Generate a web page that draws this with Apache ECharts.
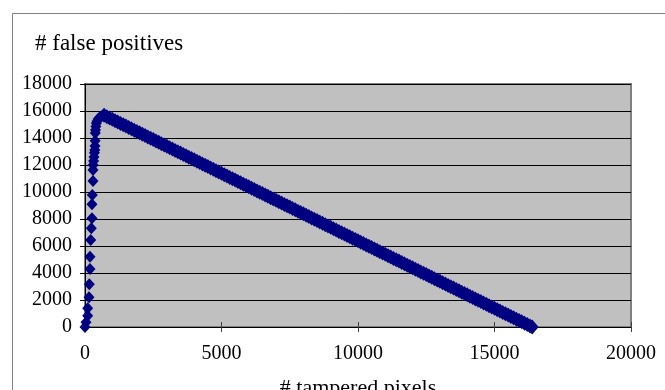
<!DOCTYPE html>
<html>
<head>
<meta charset="utf-8">
<script src="https://cdn.jsdelivr.net/npm/echarts@6/dist/echarts.min.js"></script>
<style>html,body{margin:0;padding:0;background:#fff;}#c{width:665px;height:390px;}</style>
</head>
<body>
<div id="c"></div>
<script>
var titleText = '# false positives';
var xAxisTitle = '# tampered pixels';
var yTicks = [0, 2000, 4000, 6000, 8000, 10000, 12000, 14000, 16000, 18000];
var xTicks = [0, 5000, 10000, 15000, 20000];

var risingX = [0, 37, 99, 99, 147, 158, 183, 183, 209, 231, 256, 256, 267, 293, 293, 300, 315, 330, 345, 360, 366, 372, 377, 385, 400, 415, 440, 480, 540, 610, 660];
var risingY = [0, 350, 840, 1385, 2200, 3160, 4300, 5210, 6440, 7310, 8050, 9090, 9780, 10810, 11630, 12000, 12300, 12600, 12900, 13110, 13400, 13800, 14370, 14600, 14850, 15090, 15250, 15400, 15530, 15620, 15680];

var fallingX = [700, 800, 900, 1000, 1100, 1200, 1300, 1400, 1500, 1600, 1700, 1800, 1900, 2000, 2100, 2200, 2300, 2400, 2500, 2600, 2700, 2800, 2900, 3000, 3100, 3200, 3300, 3400, 3500, 3600, 3700, 3800, 3900, 4000, 4100, 4200, 4300, 4400, 4500, 4600, 4700, 4800, 4900, 5000, 5100, 5200, 5300, 5400, 5500, 5600, 5700, 5800, 5900, 6000, 6100, 6200, 6300, 6400, 6500, 6600, 6700, 6800, 6900, 7000, 7100, 7200, 7300, 7400, 7500, 7600, 7700, 7800, 7900, 8000, 8100, 8200, 8300, 8400, 8500, 8600, 8700, 8800, 8900, 9000, 9100, 9200, 9300, 9400, 9500, 9600, 9700, 9800, 9900, 10000, 10100, 10200, 10300, 10400, 10500, 10600, 10700, 10800, 10900, 11000, 11100, 11200, 11300, 11400, 11500, 11600, 11700, 11800, 11900, 12000, 12100, 12200, 12300, 12400, 12500, 12600, 12700, 12800, 12900, 13000, 13100, 13200, 13300, 13400, 13500, 13600, 13700, 13800, 13900, 14000, 14100, 14200, 14300, 14400, 14500, 14600, 14700, 14800, 14900, 15000, 15100, 15200, 15300, 15400, 15500, 15600, 15700, 15800, 15900, 16000, 16100, 16200, 16300, 16380];
var fallingY = [15680, 15580, 15480, 15380, 15280, 15180, 15080, 14980, 14880, 14780, 14680, 14580, 14480, 14380, 14280, 14180, 14080, 13980, 13880, 13780, 13680, 13580, 13480, 13380, 13280, 13180, 13080, 12980, 12880, 12780, 12680, 12580, 12480, 12380, 12280, 12180, 12080, 11980, 11880, 11780, 11680, 11580, 11480, 11380, 11280, 11180, 11080, 10980, 10880, 10780, 10680, 10580, 10480, 10380, 10280, 10180, 10080, 9980, 9880, 9780, 9680, 9580, 9480, 9380, 9280, 9180, 9080, 8980, 8880, 8780, 8680, 8580, 8480, 8380, 8280, 8180, 8080, 7980, 7880, 7780, 7680, 7580, 7480, 7380, 7280, 7180, 7080, 6980, 6880, 6780, 6680, 6580, 6480, 6380, 6280, 6180, 6080, 5980, 5880, 5780, 5680, 5580, 5480, 5380, 5280, 5180, 5080, 4980, 4880, 4780, 4680, 4580, 4480, 4380, 4280, 4180, 4080, 3980, 3880, 3780, 3680, 3580, 3480, 3380, 3280, 3180, 3080, 2980, 2880, 2780, 2680, 2580, 2480, 2380, 2280, 2180, 2080, 1980, 1880, 1780, 1680, 1580, 1480, 1380, 1280, 1180, 1080, 980, 880, 780, 680, 580, 480, 380, 280, 180, 80, 0];

var risingPts = [];
for (var i = 0; i < risingX.length; i++) risingPts.push([risingX[i], risingY[i]]);
var fallingPts = [];
for (var j = 0; j < fallingX.length; j++) fallingPts.push([fallingX[j], fallingY[j]]);

var FONT = '"Liberation Serif", "Times New Roman", serif';
var plain = function (v) { return String(v); };
var chart = echarts.init(document.getElementById('c'), null, {renderer: 'canvas'});
chart.setOption({
  animation: false,
  backgroundColor: '#ffffff',
  title: {
    text: titleText, left: 30, top: 27,
    textStyle: {fontFamily: FONT, fontSize: 23, fontWeight: 'normal', color: '#000'}
  },
  graphic: [{
    type: 'rect', left: 10, top: 11, silent: true, z: -10,
    shape: {x: 0, y: 0, width: 700, height: 420},
    style: {fill: 'none', stroke: '#808080', lineWidth: 1}
  }],
  grid: {
    left: 85, right: 34, top: 84, bottom: 63,
    outerBoundsMode: 'none', containLabel: false,
    show: true, backgroundColor: '#c0c0c0', borderColor: '#808080', borderWidth: 2
  },
  xAxis: [{
    type: 'value', min: xTicks[0], max: xTicks[xTicks.length - 1], interval: 5000,
    name: xAxisTitle, nameLocation: 'middle', nameGap: 50,
    nameTextStyle: {fontFamily: FONT, fontSize: 22, color: '#000'},
    axisLine: {show: true, lineStyle: {color: '#000', width: 1}},
    axisTick: {show: true, inside: false, length: 5, lineStyle: {color: '#404040'}},
    axisLabel: {fontFamily: FONT, fontSize: 20, color: '#000', margin: 17, formatter: plain},
    splitLine: {show: false}
  }, {
    type: 'value', min: xTicks[0], max: xTicks[xTicks.length - 1], interval: 5000,
    position: 'bottom',
    axisLine: {show: false},
    axisTick: {show: true, inside: true, length: 5, lineStyle: {color: '#404040'}},
    axisLabel: {show: false},
    splitLine: {show: false}
  }],
  yAxis: {
    type: 'value', min: yTicks[0], max: yTicks[yTicks.length - 1], interval: 2000,
    axisLine: {show: true, lineStyle: {color: '#000', width: 1}},
    axisTick: {show: true, inside: false, length: 5, lineStyle: {color: '#000'}},
    axisLabel: {fontFamily: FONT, fontSize: 20, color: '#000', margin: 13, formatter: plain},
    splitLine: {show: true, lineStyle: {color: '#000', width: 1}}
  },
  series: [{
    type: 'scatter',
    data: risingPts,
    symbol: 'diamond',
    symbolSize: [11, 12],
    itemStyle: {color: '#000080', opacity: 1},
    clip: false
  }, {
    type: 'scatter',
    data: fallingPts,
    symbol: 'diamond',
    symbolSize: [13, 15],
    itemStyle: {color: '#000080', opacity: 1},
    clip: false
  }]
});
</script>
</body>
</html>
